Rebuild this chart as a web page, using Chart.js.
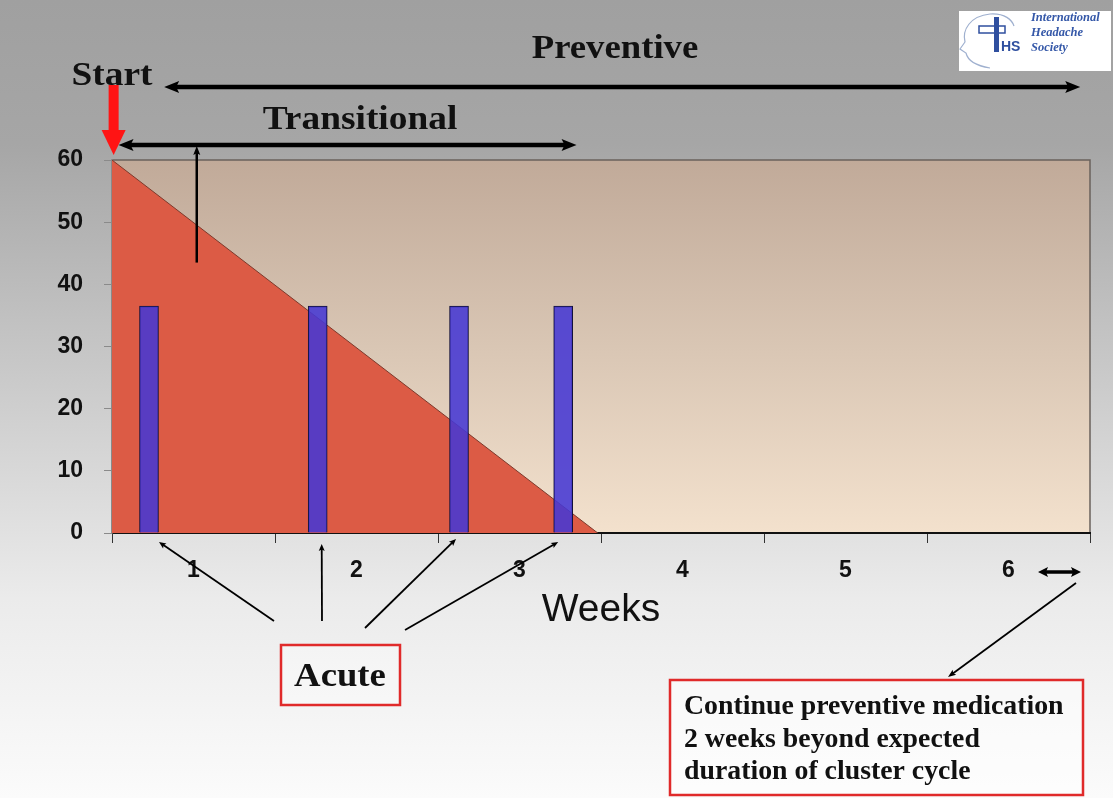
<!DOCTYPE html>
<html>
<head>
<meta charset="utf-8">
<script src="https://cdn.jsdelivr.net/npm/chart.js@4/dist/chart.umd.min.js"></script>
<style>
  html, body { margin: 0; padding: 0; background: #fff; }
  #wrap { width: 1113px; height: 798px; }
</style>
</head>
<body>
<div id="wrap"><canvas id="c" width="1113" height="798"></canvas></div>
<script>
// Week categories along the bottom axis
const weekLabels = ['1', '2', '3', '4', '5', '6'];
// Vertical axis ticks
const yTicks = [0, 10, 20, 30, 40, 50, 60];
// Acute treatment doses (position in weeks, height)
const acuteWeeks = [0.227, 1.262, 2.129, 2.768];
const acuteValues = [36.5, 36.5, 36.5, 36.5];
// Transitional therapy taper (weeks, level)
const transitionWeeks = [0, 2.98];
const transitionValues = [60, 0];

const SERIF = '"Liberation Serif", "Times New Roman", serif';
const SANS = '"Liberation Sans", Arial, sans-serif';

function arrowHead(ctx, x, y, angle, len, half, color) {
  ctx.save();
  ctx.translate(x, y);
  ctx.rotate(angle);
  ctx.fillStyle = color;
  ctx.beginPath();
  ctx.moveTo(0, 0);
  ctx.lineTo(-len, -half);
  ctx.lineTo(-len * 0.8, 0);
  ctx.lineTo(-len, half);
  ctx.closePath();
  ctx.fill();
  ctx.restore();
}

function arrow(ctx, x1, y1, x2, y2, o) {
  const color = o.color || '#000';
  const ang = Math.atan2(y2 - y1, x2 - x1);
  ctx.save();
  ctx.strokeStyle = color;
  ctx.lineWidth = o.width || 2;
  ctx.lineCap = 'butt';
  ctx.beginPath();
  const inset = (o.len || 10) * 0.7;
  const sx = o.both ? x1 + Math.cos(ang) * inset : x1;
  const sy = o.both ? y1 + Math.sin(ang) * inset : y1;
  ctx.moveTo(sx, sy);
  ctx.lineTo(x2 - Math.cos(ang) * inset, y2 - Math.sin(ang) * inset);
  ctx.stroke();
  ctx.restore();
  arrowHead(ctx, x2, y2, ang, o.len || 10, o.half || 4, color);
  if (o.both) arrowHead(ctx, x1, y1, ang + Math.PI, o.len || 10, o.half || 4, color);
}

// Text with an optional horizontal stretch (sx) around its anchor point
function text(ctx, str, x, y, font, align, sx) {
  ctx.save();
  ctx.translate(x, y);
  ctx.scale(sx || 1, 1);
  ctx.font = font;
  ctx.fillStyle = '#111';
  ctx.textAlign = align || 'center';
  ctx.textBaseline = 'middle';
  ctx.fillText(str, 0, 0);
  ctx.restore();
}

const backdrop = {
  id: 'backdrop',
  beforeDraw(chart) {
    const { ctx, chartArea: a, width, height } = chart;
    ctx.save();
    const g = ctx.createLinearGradient(0, 0, 0, height);
    g.addColorStop(0, '#a0a0a0');
    g.addColorStop(0.18, '#a6a6a6');
    g.addColorStop(0.5, '#cdcdcd');
    g.addColorStop(0.75, '#ebebeb');
    g.addColorStop(1, '#fbfbfb');
    ctx.fillStyle = g;
    ctx.fillRect(0, 0, width, height);
    const p = ctx.createLinearGradient(0, a.top, 0, a.bottom);
    p.addColorStop(0, '#c1aa99');
    p.addColorStop(0.5, '#d9c6b4');
    p.addColorStop(1, '#f3e1cd');
    ctx.fillStyle = p;
    ctx.fillRect(a.left, a.top, a.right - a.left, a.bottom - a.top);
    ctx.strokeStyle = '#6a625c';
    ctx.lineWidth = 1.5;
    ctx.beginPath();
    ctx.moveTo(a.left, a.top);
    ctx.lineTo(a.right, a.top);
    ctx.lineTo(a.right, a.bottom);
    ctx.stroke();
    ctx.restore();
  }
};

const notes = {
  id: 'notes',
  afterDraw(chart) {
    const { ctx } = chart;
    const xw = chart.scales.xw;
    const y = chart.scales.y;
    const px = v => xw.getPixelForValue(v);

    // Phase headings
    text(ctx, 'Start', 112, 76, 'bold 34px ' + SERIF, 'center', 1.1);
    text(ctx, 'Preventive', 615, 49, 'bold 34px ' + SERIF, 'center', 1.08);
    text(ctx, 'Transitional', 360, 120, 'bold 34px ' + SERIF, 'center', 1.1);

    // Preventive span
    arrow(ctx, px(0.32), 87, px(5.94), 87, { width: 4.5, len: 15, half: 6, both: true });
    // Transitional span
    arrow(ctx, px(0.04), 145, px(2.85), 145, { width: 4.5, len: 15, half: 6, both: true });
    // Transitional start marker
    arrow(ctx, px(0.52), y.getPixelForValue(43.5), px(0.52), 146, { width: 2.5, len: 9, half: 3.5 });

    // Start marker
    ctx.save();
    ctx.fillStyle = '#ff1414';
    const sx = px(0.01);
    ctx.fillRect(sx - 5, 85, 10, 48);
    ctx.beginPath();
    ctx.moveTo(sx - 12, 130);
    ctx.lineTo(sx + 12, 130);
    ctx.lineTo(sx, 155);
    ctx.closePath();
    ctx.fill();
    ctx.restore();

    // Acute box and pointers
    ctx.save();
    ctx.fillStyle = 'rgba(255,255,255,0.35)';
    ctx.fillRect(281, 645, 119, 60);
    ctx.strokeStyle = '#e02a2a';
    ctx.lineWidth = 2.5;
    ctx.strokeRect(281, 645, 119, 60);
    ctx.restore();
    text(ctx, 'Acute', 340, 677, 'bold 34px ' + SERIF, 'center', 1.08);
    const base = y.getPixelForValue(0);
    const ends = [[274, 621, px(acuteWeeks[0]) + 10, base + 9],
                  [322, 621, px(acuteWeeks[1]) + 4, base + 11],
                  [365, 628, px(acuteWeeks[2]) - 3, base + 6],
                  [405, 630, px(acuteWeeks[3]) - 5, base + 9]];
    ends.forEach(e => arrow(ctx, e[0], e[1], e[2], e[3], { width: 1.8, len: 7, half: 3 }));

    // Guidance box
    ctx.save();
    ctx.fillStyle = 'rgba(255,255,255,0.5)';
    ctx.fillRect(670, 680, 413, 115);
    ctx.strokeStyle = '#e02a2a';
    ctx.lineWidth = 2.5;
    ctx.strokeRect(670, 680, 413, 115);
    ctx.restore();
    const f = 'bold 27px ' + SERIF;
    text(ctx, 'Continue preventive medication', 684, 707, f, 'left', 1.03);
    text(ctx, '2 weeks beyond expected', 684, 740, f, 'left', 1.03);
    text(ctx, 'duration of cluster cycle', 684, 772, f, 'left', 1.03);
    arrow(ctx, 1076, 583, 948, 677, { width: 1.8, len: 8, half: 3 });
    arrow(ctx, 1038, 572, 1081, 572, { width: 3.5, len: 10, half: 5, both: true });

    // Society badge
    ctx.save();
    ctx.fillStyle = '#ffffff';
    ctx.fillRect(959, 11, 152, 60);
    ctx.strokeStyle = '#9fb0cf';
    ctx.lineWidth = 1.2;
    ctx.beginPath();
    ctx.moveTo(990, 14);
    ctx.bezierCurveTo(970, 16, 962, 30, 965, 42);
    ctx.lineTo(960, 49);
    ctx.lineTo(966, 53);
    ctx.bezierCurveTo(968, 62, 978, 66, 990, 68);
    ctx.moveTo(990, 14);
    ctx.bezierCurveTo(1005, 13, 1012, 20, 1014, 26);
    ctx.stroke();
    ctx.strokeStyle = '#2f4f9f';
    ctx.lineWidth = 1.5;
    ctx.strokeRect(979, 26, 26, 7);
    ctx.fillStyle = '#2f4f9f';
    ctx.fillRect(994, 17, 5, 35);
    ctx.font = 'bold 14px ' + SANS;
    ctx.textBaseline = 'middle';
    ctx.fillText('HS', 1001, 47);
    ctx.font = 'italic bold 12.5px ' + SERIF;
    ctx.fillStyle = '#3558a8';
    ctx.textAlign = 'left';
    ctx.fillText('International', 1031, 18);
    ctx.fillText('Headache', 1031, 33);
    ctx.fillText('Society', 1031, 48);
    ctx.restore();
  }
};

new Chart(document.getElementById('c'), {
  type: 'bar',
  data: {
    labels: weekLabels,
    datasets: [
      {
        type: 'bar',
        label: 'Acute',
        xAxisID: 'xw',
        data: acuteWeeks.map((w, i) => ({ x: w, y: acuteValues[i] })),
        backgroundColor: 'rgba(70,56,212,0.88)',
        borderColor: '#14123a',
        borderWidth: 1,
        barThickness: 19,
        order: 0
      },
      {
        type: 'line',
        label: 'Transitional',
        xAxisID: 'xw',
        data: transitionWeeks.map((w, i) => ({ x: w, y: transitionValues[i] })),
        borderColor: '#7c3a2c',
        borderWidth: 1,
        backgroundColor: '#dc5b45',
        fill: 'origin',
        pointRadius: 0,
        tension: 0,
        order: 1
      }
    ]
  },
  options: {
    responsive: false,
    animation: false,
    devicePixelRatio: 1,
    layout: { padding: { top: 160, right: 23, bottom: 160, left: 0 } },
    plugins: { legend: { display: false }, tooltip: { enabled: false } },
    scales: {
      x: {
        type: 'category',
        labels: weekLabels,
        offset: true,
        grid: { offset: true, drawOnChartArea: false, tickLength: 10, color: '#333' },
        border: { color: '#111', width: 2 },
        ticks: { font: { family: SANS, weight: 'bold', size: 23 }, color: '#111', padding: 14 },
        title: { display: true, text: 'Weeks', font: { family: SANS, size: 39 }, color: '#111' },
        afterFit: s => { s.height = 105; }
      },
      xw: { type: 'linear', min: 0, max: 6, offset: false, grid: { offset: false }, display: false },
      y: {
        min: 0,
        max: 60,
        afterBuildTicks: s => { s.ticks = yTicks.map(v => ({ value: v })); },
        ticks: { font: { family: SANS, weight: 'bold', size: 23 }, color: '#111', padding: 21 },
        grid: { drawOnChartArea: false, tickLength: 8, color: '#8a8a8a' },
        border: { color: '#8a8a8a', width: 1.5 },
        afterFit: s => { s.width = 112; }
      }
    }
  },
  plugins: [backdrop, notes]
});
</script>
</body>
</html>
